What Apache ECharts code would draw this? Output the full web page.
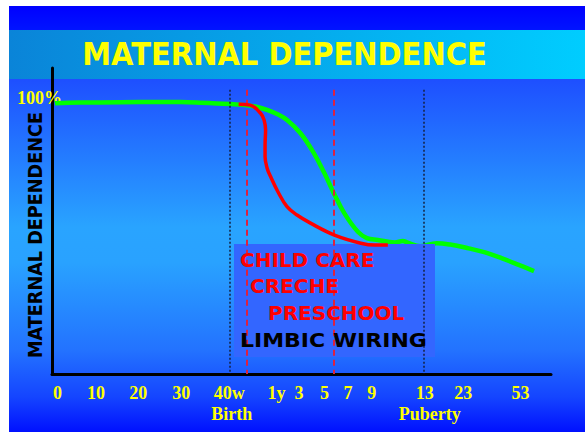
<!DOCTYPE html>
<html>
<head>
<meta charset="utf-8">
<title>Maternal Dependence</title>
<style>
  html, body { margin: 0; padding: 0; background: #ffffff; }
  #chart { width: 588px; height: 432px; }
</style>
<script src="https://cdn.jsdelivr.net/npm/echarts@6/dist/echarts.min.js"></script>
</head>
<body>
<div id="chart"></div>
<script>
// Age timeline: positions along the axis (0–100) and the ages written under them
const ageTickPos    = [1.1, 8.8, 17.3, 25.9, 35.5, 45.0, 49.5, 54.6, 59.3, 64.1, 74.7, 82.4, 93.9];
const ageTickLabels = ['0', '10', '20', '30', '40w', '1y', '3', '5', '7', '9', '13', '23', '53'];
const stagePos      = [36.0, 75.7];
const stageLabels   = ['Birth', 'Puberty'];

// Maternal dependence (%) — natural course
const naturalX = [0.6, 5.6, 9.6, 17.6, 25.7, 29.7, 35.6, 39.1, 41.1, 43.1, 45.1, 47.1, 49.8, 52.5,
                  54.6, 56.5, 58.6, 61.3, 63.1, 65.3, 68.7, 70.3, 71.3, 73.8, 77.1, 79.8, 83.5,
                  86.8, 90.2, 93.4, 96.6];
const naturalY = [100, 100.3, 100.3, 100.4, 100.4, 100.2, 99.7, 99.2, 98.6, 97.5, 96.0, 93.8, 88.9, 81.5,
                  74.1, 66.7, 59.3, 52.5, 50.2, 49.5, 48.6, 49.1, 48.5, 47.2, 48.3, 47.8, 46.4,
                  44.9, 42.7, 40.4, 38.0];

// Maternal dependence (%) — with early child care
const childCareX = [37.4, 39.7, 41.8, 42.5, 42.8, 42.7, 42.7, 43.1, 43.8, 45.3, 47.1, 49.1, 51.8,
                    56.6, 61.9, 64.7, 67.3];
const childCareY = [99.6, 99.3, 96.3, 93.8, 90.1, 84.6, 80.2, 76.1, 72.9, 67.2, 61.8, 58.7, 55.7,
                    51.3, 48.3, 47.6, 47.6];

// Vertical reference lines
const milestoneX = [35.6, 74.5];   // birth and puberty (dotted)
const careX      = [39.1, 56.4];   // child care window (dashed)
const refLineTop = 105;

const boxLines = ['CHILD CARE', 'CRECHE', 'PRESCHOOL', 'LIMBIC WIRING'];

function pairs(xs, ys) { return xs.map((x, i) => [x, ys[i]]); }
function labelAt(positions, labels) {
  return function (v) {
    let best = 0, bestD = Infinity;
    positions.forEach((p, i) => { const d = Math.abs(p - v); if (d < bestD) { bestD = d; best = i; } });
    return labels[best];
  };
}

const yellowSerif = { color: '#ffff00', fontFamily: 'Liberation Serif', fontWeight: 'bold', fontSize: 18 };

const refLines = [];
milestoneX.forEach(x => refLines.push([
  { coord: [x, refLineTop], lineStyle: { color: '#14213f', width: 1.5, type: [2, 2] } },
  { coord: [x, 0] }
]));
careX.forEach(x => refLines.push([
  { coord: [x, refLineTop], lineStyle: { color: '#dc2240', width: 2, type: [6, 4] } },
  { coord: [x, 0] }
]));

const chart = echarts.init(document.getElementById('chart'), null, { renderer: 'svg' });

chart.setOption({
  animation: false,
  backgroundColor: '#ffffff',
  grid: { left: 52, right: 37, top: 68, bottom: 58, containLabel: false, outerBoundsMode: 'none' },
  xAxis: [
    {
      type: 'value', min: 0, max: 100,
      axisLine: { show: true, onZero: false, lineStyle: { color: '#000000', width: 3 } },
      axisTick: { show: false },
      splitLine: { show: false },
      axisLabel: Object.assign({ customValues: ageTickPos, formatter: labelAt(ageTickPos, ageTickLabels), margin: 10 }, yellowSerif)
    },
    {
      type: 'value', min: 0, max: 100, position: 'bottom',
      axisLine: { show: false },
      axisTick: { show: false },
      splitLine: { show: false },
      axisLabel: Object.assign({ customValues: stagePos, formatter: labelAt(stagePos, stageLabels), margin: 31 }, yellowSerif)
    }
  ],
  yAxis: {
    type: 'value', min: 0, max: 113,
    name: 'MATERNAL DEPENDENCE',
    nameLocation: 'middle',
    nameRotate: 90,
    nameGap: 7,
    nameMoveOverlap: false,
    nameTextStyle: {
      color: '#000000', fontFamily: 'DejaVu Sans Condensed', fontWeight: 'bold', fontSize: 19.6,
      lineHeight: 19, padding: [0, 28, 0, 0]
    },
    axisLine: { show: true, lineStyle: { color: '#000000', width: 3 } },
    axisTick: { show: false },
    splitLine: { show: false },
    axisLabel: {
      customValues: [100],
      margin: -10,
      verticalAlign: 'middle',
      formatter: v => '{p|' + v + '%}',
      rich: { p: Object.assign({ padding: [0, 0, 10, 0] }, yellowSerif) }
    }
  },
  series: [
    {
      name: 'Natural', type: 'line', z: 2,
      data: pairs(naturalX, naturalY),
      smooth: 0.4, symbol: 'none',
      lineStyle: { color: '#00ff00', width: 4.5 }
    },
    {
      name: 'Reference lines', type: 'line', z: 4, data: [],
      markLine: { silent: true, symbol: ['none', 'none'], label: { show: false }, data: refLines }
    },
    {
      name: 'Child care', type: 'line', z: 5,
      data: pairs(childCareX, childCareY),
      smooth: 0.4, symbol: 'none',
      lineStyle: { color: '#ff0000', width: 3.5 }
    }
  ],
  graphic: [
    // slide background
    { type: 'rect', z: -10, silent: true, shape: { x: 9, y: 6, width: 576, height: 24 },
      style: { fill: new echarts.graphic.LinearGradient(0, 0, 0, 1, [
        { offset: 0, color: '#0000ff' }, { offset: 1, color: '#0014ff' }]) } },
    { type: 'rect', z: -10, silent: true, shape: { x: 9, y: 30, width: 576, height: 49 },
      style: { fill: new echarts.graphic.LinearGradient(0, 0, 1, 0, [
        { offset: 0, color: '#0a84d8' }, { offset: 1, color: '#00cdff' }]) } },
    { type: 'rect', z: -10, silent: true, shape: { x: 9, y: 79, width: 576, height: 353 },
      style: { fill: new echarts.graphic.LinearGradient(0, 0, 0, 1, [
        { offset: 0, color: '#1e4fff' },
        { offset: 0.42, color: '#29a4ff' },
        { offset: 0.52, color: '#29a2ff' },
        { offset: 0.77, color: '#2372ff' },
        { offset: 0.9, color: '#1545ff' },
        { offset: 1, color: '#0010ff' }]) } },
    // heading
    { type: 'text', z: 10, silent: true, x: 284.5, y: 53, scaleY: 1.12,
      style: { text: 'MATERNAL DEPENDENCE', fill: '#ffff00', font: 'bold 29px "DejaVu Sans"',
               textAlign: 'center', textVerticalAlign: 'middle', align: 'center', verticalAlign: 'middle' } },
    // note box
    { type: 'rect', z: 3, silent: true, shape: { x: 234, y: 244, width: 201, height: 113 },
      style: { fill: '#3366ff' } },
    { type: 'text', z: 10, silent: true, x: 240, y: 260,
      style: { text: boxLines[0], fill: '#ff0000', font: 'bold 20px "DejaVu Sans"', textVerticalAlign: 'middle', verticalAlign: 'middle' } },
    { type: 'text', z: 10, silent: true, x: 250, y: 286,
      style: { text: boxLines[1], fill: '#ff0000', font: 'bold 20px "DejaVu Sans"', textVerticalAlign: 'middle', verticalAlign: 'middle' } },
    { type: 'text', z: 10, silent: true, x: 268, y: 313,
      style: { text: boxLines[2], fill: '#ff0000', font: 'bold 20px "DejaVu Sans"', textVerticalAlign: 'middle', verticalAlign: 'middle' } },
    { type: 'text', z: 10, silent: true, x: 240, y: 340, scaleX: 1.1,
      style: { text: boxLines[3], fill: '#000000', font: 'bold 20px "DejaVu Sans"', textVerticalAlign: 'middle', verticalAlign: 'middle' } }
  ]
});
</script>
</body>
</html>
